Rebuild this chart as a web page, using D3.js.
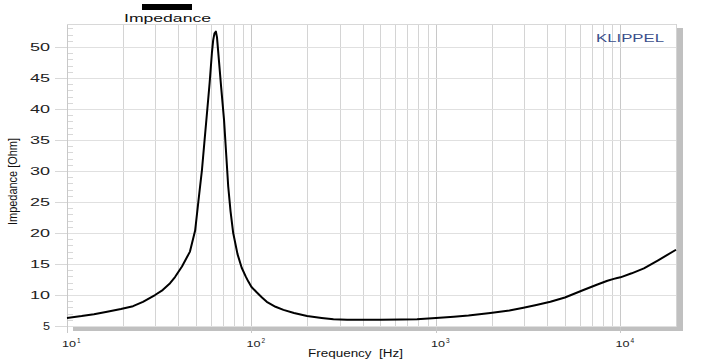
<!DOCTYPE html>
<html><head><meta charset="utf-8">
<script src="https://cdn.jsdelivr.net/npm/d3@7"></script>
<style>body{margin:0;background:#fff}svg{display:block}</style>
</head><body>
<svg id="c" width="710" height="360"></svg>
<script>
const freqs = [10,12,14,16.5,19.6,22.8,25.8,30,33,36.2,38.5,42,46.4,49.5,51.5,53.9,55.5,57.4,59.3,61,62,63,64.1,65,66.1,68.5,71,73,74.8,77,79.6,84,88.5,93,96,100,107,114,121,135,149,170,200,240,278,330,390,500,650,789,1000,1250,1500,1972,2500,2980,3500,4170,5000,6300,7500,8500,9200,9600,10000,11500,13400,16000,20000];
const impedance = [6.3,6.6,6.9,7.3,7.75,8.2,8.9,10.0,10.8,11.9,12.9,14.6,17.0,20.4,25.0,30.2,34.5,39.4,44.2,49.0,51.1,52.2,52.5,51.6,49.0,43.5,38.2,32.5,27.5,23.5,20.0,16.6,14.4,13.0,12.2,11.3,10.4,9.6,8.9,8.1,7.6,7.1,6.6,6.3,6.1,6.0,6.0,6.0,6.05,6.1,6.3,6.5,6.7,7.1,7.5,7.95,8.4,8.9,9.6,10.8,11.7,12.3,12.6,12.75,12.85,13.5,14.3,15.6,17.3];
const yTicks = [5,10,15,20,25,30,35,40,45,50];
const xDecades = [10,100,1000,10000];
const xDecadeExps = ["1","2","3","4"];
const legendLabel = "Impedance";
const xTitle = "Frequency  [Hz]";
const yTitle = "Impedance [Ohm]";
const brand = "KLIPPEL";

const svg = d3.select("#c");
const L=67,R=676,T=24,B=327;
const x = d3.scaleLog().domain([10,20000]).range([L,R]);
const y = d3.scaleLinear().domain([4.84,53.71]).range([B,T]);

svg.append("rect").attr("x",L+6).attr("y",T+4).attr("width",R-L+1).attr("height",B-T).attr("fill","#c0c0c0");
svg.append("rect").attr("x",L).attr("y",T).attr("width",R-L).attr("height",B-T).attr("fill","#fff");

const minor=[];
for(let d=10; d<20000; d*=10){ for(let k=1;k<10;k++){ const v=d*k; if(v<=20000) minor.push(v);} }
svg.append("g").selectAll("line").data(minor.filter(v=>v>10)).join("line")
  .attr("x1",d=>Math.round(x(d))+0.5).attr("x2",d=>Math.round(x(d))+0.5).attr("y1",T).attr("y2",B)
  .attr("stroke",d=>xDecades.includes(d)?"#c8c8c8":"#d4d4d4").attr("stroke-width",1);
svg.append("g").selectAll("line").data(yTicks).join("line")
  .attr("x1",L).attr("x2",R).attr("y1",d=>Math.round(y(d))+0.5).attr("y2",d=>Math.round(y(d))+0.5)
  .attr("stroke","#e0e0e0");
const yMinor=d3.range(5,54,1).filter(v=>v%5!==0);
svg.append("g").selectAll("line").data(yMinor).join("line")
  .attr("x1",L).attr("x2",L+6).attr("y1",d=>Math.round(y(d))+0.5).attr("y2",d=>Math.round(y(d))+0.5)
  .attr("stroke","#d8d8d8");
svg.append("g").selectAll("line").data(yTicks).join("line")
  .attr("x1",L-12).attr("x2",L).attr("y1",d=>Math.round(y(d))+0.5).attr("y2",d=>Math.round(y(d))+0.5)
  .attr("stroke","#d8d8d8");
svg.append("line").attr("x1",L+0.5).attr("x2",L+0.5).attr("y1",T).attr("y2",B).attr("stroke","#c8c8c8");
svg.append("line").attr("x1",L).attr("x2",R).attr("y1",T+0.5).attr("y2",T+0.5).attr("stroke","#d8d8d8");
svg.append("g").selectAll("line").data(xDecades).join("line")
  .attr("x1",d=>Math.round(x(d))+0.5).attr("x2",d=>Math.round(x(d))+0.5).attr("y1",B).attr("y2",B+6)
  .attr("stroke","#c8c8c8");

svg.append("g").selectAll("text").data(yTicks).join("text")
  .attr("x",50).attr("y",d=>y(d)+3.6).attr("text-anchor","end")
  .attr("font-family","Liberation Sans, Arial, sans-serif").attr("font-size",10).attr("fill","#222")
  .attr("textLength",d=>String(d).length===1?7:20).attr("lengthAdjust","spacingAndGlyphs")
  .text(d=>d);
const xl = svg.append("g").selectAll("g").data(xDecades).join("g");
xl.append("text").attr("x",d=>x(d)-5).attr("y",347).attr("font-family","Liberation Sans, Arial, sans-serif")
  .attr("font-size",9).attr("fill","#222").attr("textLength",14).attr("lengthAdjust","spacingAndGlyphs").text("10");
xl.append("text").attr("x",d=>x(d)+10).attr("y",343).attr("font-family","Liberation Sans, Arial, sans-serif")
  .attr("font-size",6.5).attr("fill","#222").text((d,i)=>xDecadeExps[i]);

const pts = freqs.map((f,i)=>[f,impedance[i]]);
svg.append("path").datum(pts)
  .attr("d",d3.line().x(d=>x(d[0])).y(d=>y(d[1])).curve(d3.curveLinear))
  .attr("fill","none").attr("stroke","#000").attr("stroke-width",2).attr("stroke-linejoin","round");

svg.append("rect").attr("x",142).attr("y",4).attr("width",50).attr("height",6).attr("fill","#000");
svg.append("text").attr("x",124).attr("y",22).attr("font-family","Liberation Sans, Arial, sans-serif")
  .attr("font-size",11).attr("fill","#111").attr("textLength",87).attr("lengthAdjust","spacingAndGlyphs").text(legendLabel);
svg.append("text").attr("x",596).attr("y",42).attr("font-family","Liberation Sans, Arial, sans-serif")
  .attr("font-size",11.5).attr("fill","#3b4f8c").attr("textLength",68).attr("lengthAdjust","spacingAndGlyphs").text(brand);
svg.append("text").attr("x",308).attr("y",357).attr("font-family","Liberation Sans, Arial, sans-serif")
  .attr("font-size",10).attr("fill","#111").attr("textLength",95).attr("lengthAdjust","spacingAndGlyphs")
  .attr("xml:space","preserve").style("white-space","pre").text(xTitle);
svg.append("text").attr("transform","translate(17,225) rotate(-90)").attr("font-family","Liberation Sans Narrow, Arial Narrow, Liberation Sans, sans-serif")
  .attr("font-size",12).attr("fill","#111").attr("textLength",87).attr("lengthAdjust","spacingAndGlyphs").text(yTitle);
</script>
</body></html>
